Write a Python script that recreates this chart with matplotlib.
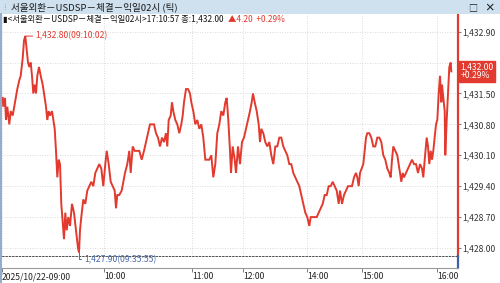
import matplotlib
matplotlib.use("Agg")
import matplotlib.pyplot as plt
from matplotlib.patches import Rectangle
from matplotlib.lines import Line2D
import matplotlib.transforms as mtransforms

plt.rcParams["font.family"] = ["Noto Sans CJK KR", "DejaVu Sans"]

# tick sequence (position in the tick stream) and traded price
seq = [2.7, 3.3, 5, 6, 7.3, 9.3, 10.7, 12.7, 15, 17.3, 19.3, 20.7, 22.7, 24, 25.3,
       26.7, 28, 29.3, 30.7, 32, 33.3, 34.7, 36, 37.3, 39, 40.7, 42.7, 44, 46, 47.3,
       48.7, 50, 52, 53.3, 54.7, 56, 57.3, 58.7, 60, 61.3, 62.7, 64, 65.3, 66.7, 68.3,
       70, 72, 74, 76, 78, 79, 80, 81.3, 83.3, 85.3, 87.3, 89.3, 91.3, 93.3, 95.3,
       97.3, 99.3, 101.3, 103.3, 105.3, 106.7, 108.7, 110.7, 112.7, 114.7, 116, 117.3,
       119.3, 121.7, 123.3, 125, 127.3, 129.3, 130.7, 132.7, 134.7, 136.7, 139.3, 141.7,
       144, 146, 148, 150, 152, 154, 156, 158, 160, 162, 164, 166, 167.3, 168.7, 170.7,
       172, 173.3, 175.3, 177.3, 179.3, 181.3, 182.7, 184, 186, 188, 190, 191.3, 193.3,
       195.3, 197.3, 199.3, 201.3, 203.3, 205.3, 207.3, 209.3, 211.3, 213.3, 215.3,
       217.3, 219.3, 221.3, 223.3, 225.3, 226.7, 228.3, 230, 231, 232.7, 234.7, 236,
       238, 240, 242, 244, 246, 248, 250, 251.7, 253, 254.7, 256.7, 258.7, 260, 261.3,
       263.3, 265.3, 267.3, 269.3, 271.3, 273.3, 275.3, 277.3, 279.3, 281.3, 283.3,
       285.3, 287.3, 289.3, 291.3, 293.3, 295.3, 297.3, 299.3, 301.3, 303.3, 305.3,
       307.3, 309.3, 310.7, 312.7, 314.7, 316.7, 318.7, 320.7, 322.7, 324.7, 326.7,
       328.7, 330.7, 332.7, 334.7, 336.7, 338.7, 340, 342, 344, 346, 348, 350, 352, 354,
       356, 357.3, 358.7, 360, 361.7, 363.3, 364.7, 366, 367.3, 369.3, 371.3, 373.3,
       375.3, 377.3, 379.3, 381.3, 383.3, 385.3, 387.3, 389.3, 390.7, 392, 393.3, 395.3,
       397.3, 398.7, 400, 401.3, 402.7, 404, 406, 408, 410, 412, 414, 416, 418, 420, 422,
       423.3, 424.7, 426.7, 428, 429.3, 430.7, 432, 433.3, 434.7, 436, 437.3, 438.7, 440,
       441.3, 442, 443.3, 444.7, 445.3, 446.7, 448, 449.3, 450.7, 451.3]

price = [1431.4, 1431.2, 1431.4, 1430.9, 1431.2, 1430.8, 1431.1, 1431.0, 1431.3, 1431.6,
         1431.8, 1431.9, 1432.3, 1432.7, 1432.8, 1432.5, 1432.2, 1432.1, 1432.2, 1431.9,
         1431.5, 1431.7, 1431.5, 1431.9, 1432.1, 1431.9, 1431.7, 1431.5, 1431.2, 1430.9,
         1431.1, 1431.0, 1431.1, 1430.9, 1430.7, 1430.2, 1429.6, 1430.0, 1429.9, 1429.0,
         1428.6, 1428.2, 1428.8, 1428.4, 1428.7, 1428.5, 1429.0, 1428.8, 1428.4, 1428.0,
         1427.9, 1428.4, 1428.7, 1429.1, 1429.0, 1429.3, 1429.4, 1429.5, 1429.4, 1429.7,
         1429.8, 1429.9, 1429.8, 1429.4, 1429.9, 1430.2, 1429.9, 1429.5, 1429.4, 1429.3,
         1428.9, 1429.2, 1429.2, 1429.3, 1429.5, 1429.7, 1429.9, 1430.2, 1429.7, 1430.3,
         1430.2, 1430.2, 1430.2, 1430.0, 1430.2, 1430.4, 1430.6, 1430.8, 1430.8, 1430.8,
         1430.6, 1430.5, 1430.3, 1430.5, 1430.4, 1430.6, 1430.3, 1430.9, 1431.0, 1431.3,
         1431.1, 1430.9, 1430.8, 1430.6, 1430.8, 1431.0, 1431.3, 1431.6, 1431.6, 1431.5,
         1431.3, 1431.1, 1430.8, 1430.9, 1430.7, 1430.8, 1430.5, 1430.0, 1430.0, 1430.0,
         1430.1, 1429.6, 1429.9, 1430.6, 1430.8, 1431.1, 1431.0, 1431.3, 1431.4, 1430.9,
         1430.2, 1429.7, 1430.3, 1430.0, 1429.7, 1430.3, 1429.9, 1430.4, 1430.5, 1430.7,
         1430.9, 1431.1, 1431.3, 1431.5, 1431.3, 1431.1, 1430.8, 1430.4, 1430.7, 1430.6,
         1430.4, 1430.3, 1430.4, 1430.1, 1429.9, 1430.3, 1430.3, 1430.5, 1430.5, 1430.3,
         1430.2, 1430.1, 1429.9, 1429.9, 1429.7, 1429.6, 1429.5, 1429.4, 1429.2, 1429.0,
         1428.8, 1428.7, 1428.5, 1428.7, 1428.7, 1428.7, 1428.7, 1428.8, 1428.9, 1429.0,
         1429.2, 1429.2, 1429.4, 1429.4, 1429.5, 1429.4, 1429.3, 1429.0, 1429.3, 1429.0,
         1429.2, 1429.3, 1429.4, 1429.4, 1429.4, 1429.6, 1429.7, 1429.6, 1429.4, 1429.7,
         1429.8, 1429.9, 1430.2, 1430.5, 1430.6, 1430.6, 1430.5, 1430.3, 1430.3, 1430.5,
         1430.5, 1430.4, 1430.1, 1430.0, 1429.8, 1429.7, 1429.6, 1430.0, 1430.3, 1430.2,
         1430.1, 1429.9, 1429.7, 1429.5, 1429.7, 1429.6, 1429.7, 1429.8, 1429.9, 1430.0,
         1429.9, 1429.9, 1429.7, 1429.9, 1429.8, 1429.6, 1430.0, 1430.5, 1430.3, 1429.9,
         1430.2, 1430.0, 1430.2, 1430.5, 1430.8, 1430.9, 1431.5, 1431.9, 1431.3, 1431.7,
         1431.4, 1431.1, 1430.1, 1430.9, 1431.5, 1432.1, 1432.2, 1432.0]

time_pos = [2, 104, 192, 243, 307, 362, 437]
time_labels = ["2025/10/22-09:00", "10:00", "11:00", "12:00", "14:00", "15:00", "16:00"]
price_ticks = [1428.0, 1428.7, 1429.4, 1430.1, 1430.8, 1431.5, 1432.2, 1432.9]

title = "서울외환－USDSP－체결－익일02시 (틱)"
header = "▮<서울외환－USDSP－체결－익일02시>17:10:57 종:1,432.00"
change = "▲4.20  +0.29%"
high_label = "1,432.80(09:10:02)"
low_label = "1,427.90(09:35:55)"
last_label = "1,432.00\n+0.29%"

RED = "#e23a2e"
BLUE = "#4a6aa6"

W, H = 500, 283
fig = plt.figure(figsize=(W / 100, H / 100), dpi=100)
fig.patch.set_facecolor("white")


def fx(px):
    return px / W


def fy(py):
    return 1 - py / H


# title bar
fig.add_artist(Rectangle((0, fy(14)), 1, 14 / H, transform=fig.transFigure,
                         facecolor="#cfe1ef", edgecolor="none"))
fig.text(fx(3), fy(7), "⁞", fontsize=6, color="#7890a8", va="center")
fig.text(fx(11), fy(7.5), title, fontsize=6.9, color="#1a1a1a", va="center")
fig.text(fx(473), fy(7.5), "□", fontsize=6.5, color="#222", va="center", ha="center")
fig.text(fx(489), fy(7.5), "×", fontsize=7.5, color="#222", va="center", ha="center",
         fontweight="bold")

# price pane
ax = fig.add_axes([fx(2), fy(255.5), fx(456), (255.5 - 14) / H])
ax.plot(seq, price, color=RED, lw=1.4, solid_joinstyle="miter")
ax.set_xlim(2, 458)
ax.set_ylim(1427.83, 1433.30)
ax.set_xticks(time_pos)
ax.tick_params(axis="x", bottom=False, labelbottom=False)
ax.yaxis.tick_right()
ax.set_yticks(price_ticks)
# the 1,432.20 label sits under the last-price tag
ax.set_yticklabels(["" if v == 1432.2 else f"{v:,.2f}" for v in price_ticks])
ax.tick_params(axis="y", right=True, length=2, width=0.6, color="#666",
               labelsize=6.2, labelcolor="#333", pad=1)
ax.grid(color="#cfcfcf", ls=(0, (1, 2)), lw=0.6)
for side in ("top", "left"):
    ax.spines[side].set_visible(False)
ax.spines["right"].set_color(RED)
ax.spines["right"].set_linewidth(1.6)
ax.spines["bottom"].set_color("#333")
ax.spines["bottom"].set_linewidth(0.6)
ax.spines["bottom"].set_linestyle((0, (2, 2)))

# header line
hdr = ax.text(fx(3), fy(19), header, transform=fig.transFigure, fontsize=6.0,
              color="#111", va="center")
fig.canvas.draw()
bb = hdr.get_window_extent()
ax.text((bb.x1 + 5) / W, fy(19), change, transform=fig.transFigure,
        fontsize=6.0, color=RED, va="center")

# high / low markers
i_hi = price.index(max(price))
i_lo = price.index(min(price))
ax.annotate(high_label, xy=(seq[i_hi], price[i_hi]), xytext=(10, 0),
            textcoords="offset pixels", fontsize=6.2, color=RED, va="center",
            arrowprops=dict(arrowstyle="-", color=RED, lw=0.7, shrinkA=0, shrinkB=0))
ax.annotate(low_label, xy=(seq[i_lo], price[i_lo]), xytext=(5, -7),
            textcoords="offset pixels", fontsize=6.2, color=BLUE, va="center",
            annotation_clip=False,
            arrowprops=dict(arrowstyle="-", color=BLUE, lw=0.7, shrinkA=0, shrinkB=0,
                            connectionstyle="angle,angleA=0,angleB=90,rad=0"))

# last price tag
tag_tr = mtransforms.blended_transform_factory(ax.transAxes, ax.transData)
ax.text(1.006, price[-1], last_label, transform=tag_tr, fontsize=6.2, color="white",
        va="center", ha="left", linespacing=0.95, clip_on=False, zorder=10,
        bbox=dict(boxstyle="square,pad=0.15", facecolor=RED, edgecolor=RED))

# time axis strip
tax = fig.add_axes([fx(2), fy(268), fx(456), 12.5 / H], sharex=ax)
tax.set_facecolor("none")
tax.set_yticks([])
tax.set_xticks(time_pos)
tax.set_xticklabels(time_labels)
tax.tick_params(axis="x", length=3, width=0.6, color="#666", labelsize=6.2,
                labelcolor="#222", pad=0)
for lab in tax.get_xticklabels():
    lab.set_ha("left")
for side in ("top", "left"):
    tax.spines[side].set_visible(False)
tax.spines["bottom"].set_color("#9a9a9a")
tax.spines["bottom"].set_linewidth(0.8)
tax.spines["right"].set_color("#3d5fa8")
tax.spines["right"].set_linewidth(1.6)

# window left border
fig.add_artist(Line2D([fx(0.8), fx(0.8)], [0, fy(14)], transform=fig.transFigure,
                      color="#7f9cc4", lw=1.2))

fig.savefig("out.png", dpi=100)
